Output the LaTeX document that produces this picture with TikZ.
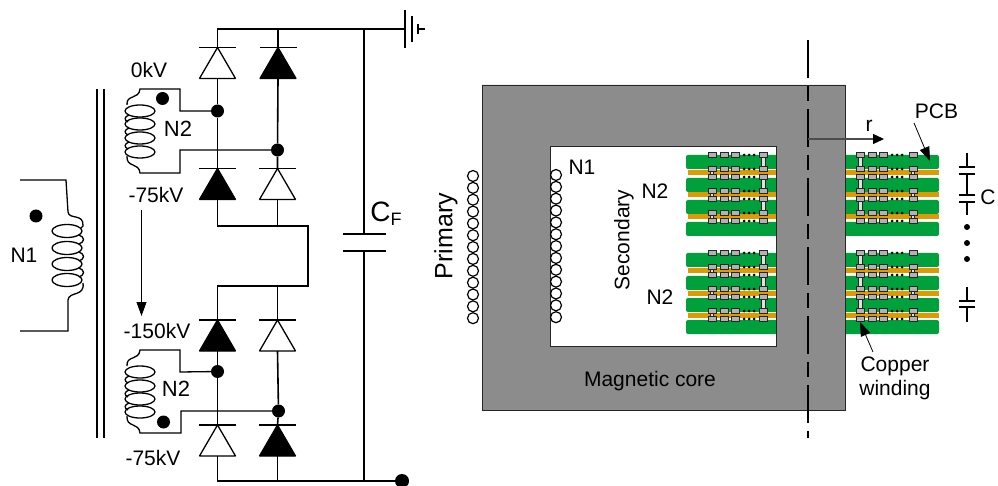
\documentclass[tikz,border=0pt]{standalone}
\usepackage{fontspec}
\setmainfont{Liberation Sans}
\usetikzlibrary{positioning,%
  arrows.meta,%
  shapes.geometric%
}
\definecolor{coregray}{RGB}{140,140,140}
\definecolor{pcbgreen}{RGB}{0,160,60}
\definecolor{cuorange}{RGB}{222,154,0}
\definecolor{padgray}{RGB}{178,178,178}

\begin{document}
\begin{tikzpicture}
                    [x=1pt, y=-1pt,
                    wire/.style={line width=1.6pt},
                    diodeopen/.style={isosceles triangle,
                        isosceles triangle stretches,
                        shape border rotate=90,
                        minimum width=36pt, minimum height=31pt,
                        inner sep=0pt, outer sep=0pt, anchor=apex,
                        fill=white, draw=black, line width=1.3pt, line join=bevel},
                    diodefull/.style={diodeopen, fill=black},
                    junct/.style={circle, fill=black, inner sep=0pt, minimum size=13pt},
                    lab/.style={font=\fontsize{21}{23}\selectfont, inner sep=0pt},
                    biglab/.style={font=\fontsize{22}{24}\selectfont, inner sep=0pt},
                    pad/.style={fill=padgray, draw=black!85, line width=1pt},
                    via/.style={fill=white!88!black, draw=black!85, line width=.8pt},
                    turn/.style={draw=black, line width=1.2pt},
                    coil/.style={line width=1.3pt},
                    bigtip/.style={-{Triangle[length=14pt,width=10pt]}, line width=.8pt}]

                    \useasboundingbox (0,0) rectangle (998,486);

                    % diodes
                    \node[diodeopen] (d1a) at (217.5,47.5) {};
                    \node[diodefull] (d1b) at (278,47.5) {};
                    \node[diodefull] (d2a) at (217.5,168.5) {};
                    \node[diodeopen] (d2b) at (277.5,168.5) {};
                    \node[diodefull] (d3a) at (217.5,320) {};
                    \node[diodeopen] (d3b) at (277.5,320) {};
                    \node[diodeopen] (d4a) at (217.5,425) {};
                    \node[diodefull] (d4b) at (277.5,425) {};

                    \foreach \d in {d1a,d1b,d2a,d2b,d3a,d3b,d4a,d4b}
                        \draw[wire] (\d.apex) +(-18.5,0) -- +(18.5,0);

                    % junctions
                    \node[junct] (j1) at (217.5,111) {};
                    \node[junct] (j2) at (277.5,150) {};
                    \node[junct] (j3) at (217.5,371.5) {};
                    \node[junct] (j4) at (278.5,411) {};
                    \node[junct, minimum size=14pt] (term) at (402,481) {};

                    \coordinate (gnd) at (405,29);
                    \coordinate (cpa) at (364,234);
                    \coordinate (cpb) at (364,251);
                    \coordinate (midtop) at (308,226);
                    \coordinate (midbot) at (308,286);

                    % rails and diode legs
                    \draw[wire] (d1a.apex) |- (gnd);
                    \draw[wire] (d1b.apex) -- (d1b.apex |- gnd);
                    \draw[wire] (d1a.lower side) -- (j1) -- (d2a.apex);
                    \draw[wire] (d1b.lower side) -- (j2) -- (d2b.apex);
                    \draw[wire] (d2a.lower side) |- (midtop) -- (midbot) -| (d3a.apex);
                    \draw[wire] (d2b.lower side) -- (d2b.lower side |- midtop);
                    \draw[wire] (d3b.apex) -- (d3b.apex |- midbot);
                    \draw[wire] (d3a.lower side) -- (j3) -- (d4a.apex);
                    \draw[wire] (d3b.lower side) -- (j4) -- (d4b.apex);
                    \draw[wire] (d4a.lower side) |- (term);
                    \draw[wire] (d4b.lower side) -- (d4b.lower side |- term);

                    % filter capacitor and ground
                    \draw[wire] (cpa |- gnd) -- (cpa);
                    \draw[wire] (cpb) -- (364,480);
                    \draw[wire] (343,234) -- (386,234);
                    \draw[wire] (343,251) -- (386,251);
                    \draw[wire] (405,10) -- (405,48);
                    \draw[wire] (412,16) -- (412,42);
                    \draw[wire] (418,24) -- (418,34) (418,29) -- (425,29);

                    % transformer legs
                    \draw[wire] (97,89) -- (97,438);
                    \draw[wire] (104,89) -- (104,438);

                    % N1 winding
                    \foreach \cy in {231,248,264,280}
                        \draw[coil] (67,\cy) ellipse (15 and 6.5);
                    \foreach \cy in {231,248,264}
                        \draw[coil] (79,\cy+4) .. controls (85,\cy+6) and (85,\cy+11) .. (79,\cy+13);
                    \draw[coil] (20,180) -- (66,180) -- (68,212)
                        .. controls (69,220) and (84,213) .. (83,226) -- (81,228);
                    \draw[coil] (20,331) -- (68,331) -- (68,300)
                        .. controls (69,291) and (85,297) .. (83,283);

                    % N2 windings
                    \foreach \cy in {111,124,138,152, 372,386,399,412}
                        \draw[coil] (140,\cy) ellipse (15 and 6);
                    \foreach \cy in {111,124,138, 372,386,399}
                        \draw[coil] (129,\cy+4) .. controls (124,\cy+6) and (124,\cy+9) .. (128,\cy+11);
                    \draw[coil] (j1) -- (180,111) -- (180,89) -- (140,89)
                        .. controls (139,100) and (126,94) .. (127,105);
                    \draw[coil] (j2) -- (180,150) -- (180,173) -- (140,173)
                        .. controls (139,162) and (126,168) .. (127,156);
                    \draw[coil] (j3) -- (180,372) -- (180,350) -- (140,350)
                        .. controls (139,361) and (126,355) .. (127,366);
                    \draw[coil] (j4) -- (181,411) -- (181,433) -- (140,433)
                        .. controls (139,422) and (126,428) .. (127,416);

                    \node[junct] (dotn1) at (36,216) {};
                    \node[junct] (dotna) at (162.5,98.5) {};
                    \node[junct] (dotnb) at (163.5,422) {};

                    % labels of the circuit
                    \node[lab] (n1) at (24,255) {N1};
                    \node[biglab] (n2a) at (178,129) {N2};
                    \node[biglab] (n2b) at (176,389) {N2};
                    \node[lab] (v0) at (149,70) {0kV};
                    \node[lab] (v1) at (156,195) {-75kV};
                    \node[lab] (v2) at (157,331) {-150kV};
                    \node[lab] (v3) at (153,458) {-75kV};
                    \node[inner sep=0pt, font=\fontsize{28}{30}\selectfont] (cf) at (386,214)
                        {C\raisebox{-4pt}{\fontsize{18}{20}\selectfont F}};
                    \coordinate (stepfrom) at (141.5,210);
                    \coordinate (stepto) at (141.5,316);
                    \draw[bigtip] (stepfrom) -- (stepto);

                    % pcb stacks
                    \foreach \sx/\sy/\gl/\gr/\ol/\orr/\wx/\nx/\lx in
                        {712/155/686/780/688/780/763/712/763,
                         860/155/840/939/840/939/860/913/913,
                         712/253/686/780/688/780/763/712/763,
                         860/253/840/939/840/939/860/913/913}{
                        \foreach \gy in {0,23,45,67}
                            \fill[pcbgreen, rounded corners=2pt] (\gl,\sy+\gy) rectangle (\gr,\sy+\gy+14);
                        \foreach \oy in {18,40,62}
                            \fill[cuorange] (\ol,\sy+\oy-2.5) rectangle (\orr,\sy+\oy+2.5);
                        \foreach \ry in {0,22,44}
                            \draw[via] (\wx-2,\sy+\ry) rectangle (\wx+2,\sy+\ry+14);
                        \foreach \ry in {14,36,58}
                            \draw[via] (\nx-1.5,\sy+\ry) rectangle (\nx+1.5,\sy+\ry+8);
                        \foreach \ry in {0,14,22,36,44,58,66}{
                            \foreach \cx in {\sx,\sx+12,\sx+23,\lx}
                                \draw[pad] (\cx-4,\sy+\ry-2.5) rectangle (\cx+4,\sy+\ry+2.5);
                            \foreach \cx in {\sx+32,\sx+37,\sx+42}
                                \fill[black] (\cx,\sy+\ry) circle (1.5);
                        }
                    }

                    % magnetic core
                    \draw[fill=coregray, draw=black!85, line width=.9pt, even odd rule]
                        (482,85) rectangle (845,410) (550,146) rectangle (776,346);

                    \foreach \i in {0,...,12}{
                        \draw[turn] (473,176+\i*11.85) circle (5.5);
                        \draw[turn] (556,175+\i*11.85) circle (5.5);
                    }

                    % axis of the core
                    \coordinate (axtop) at (808,40);
                    \coordinate (axbot) at (808,438);
                    \coordinate (rfrom) at (808,139);
                    \coordinate (rto) at (884,139);
                    \draw[dash pattern=on 38pt off 8pt on 15pt off 8pt, line width=1.6pt] (axtop) -- (axbot);
                    \draw[-{Triangle[length=11pt,width=10pt,color=black]}, line width=1.2pt, black!70] (rfrom) -- (rto);

                    % pcb capacitors
                    \draw[wire] (967,153) -- (967,167) (959,167) -- (975,167);
                    \draw[wire] (959,174) -- (975,174) (967,174) -- (967,195) (959,195) -- (975,195);
                    \draw[wire] (959,202) -- (975,202) (967,202) -- (967,215);
                    \draw[wire] (967,287) -- (967,301) (959,301) -- (975,301);
                    \draw[wire] (959,307) -- (975,307) (967,307) -- (967,322);
                    \foreach \dy in {227,243,259}
                        \fill[black] (967,\dy) circle (3);

                    % labels of the core
                    \node[lab, font=\fontsize{25}{27}\selectfont] (lprim) at (446,236) [rotate=90] {Primary};
                    \node[lab] (lsec) at (624,240) [rotate=90] {Secondary};
                    \node[lab] (ln1) at (582,167) {N1};
                    \node[lab] (ln2a) at (655,191) {N2};
                    \node[lab] (ln2b) at (660,297) {N2};
                    \node[lab] (lcore) at (650,381) {Magnetic core};
                    \node[lab] (lr) at (869,126) {r};
                    \node[lab] (lpcb) at (936.5,111) {PCB};
                    \node[lab] (lc) at (988,197) {C};
                    \node[lab] (lcop) at (895,366) {Copper};
                    \node[lab] (lwin) at (895,390) {winding};
                    \coordinate (pcbtip) at (930,161);
                    \coordinate (coptip) at (860,322);
                    \draw[bigtip] (914,123) -- (pcbtip);
                    \draw[bigtip] (873,352) -- (coptip);
\end{tikzpicture}
\end{document}
